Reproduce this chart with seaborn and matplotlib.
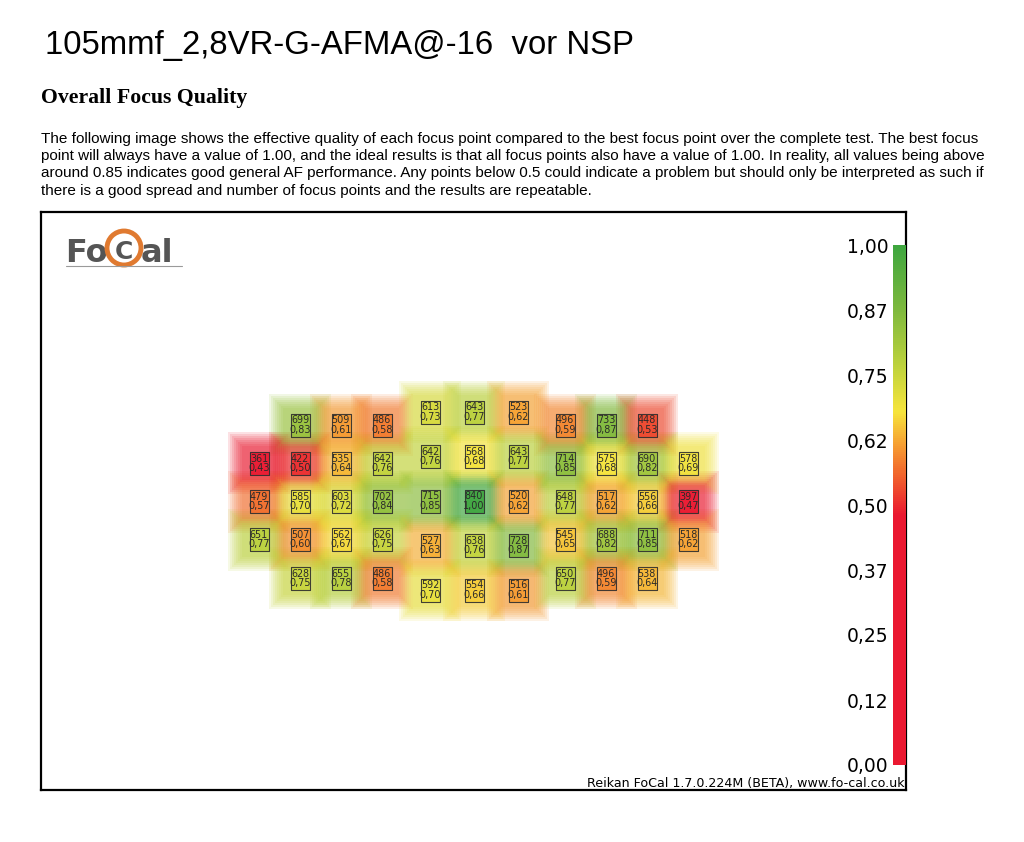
import matplotlib
matplotlib.use("Agg")
import matplotlib.pyplot as plt
import seaborn as sns
import pandas as pd
from matplotlib.colors import LinearSegmentedColormap, Normalize
from matplotlib.cm import ScalarMappable
from matplotlib.markers import MarkerStyle
from matplotlib.path import Path
from matplotlib.patches import Circle

# Data: focus point counts and relative quality, per group (row by row)
left_counts = [[None, 699, 509, 486],
               [361, 422, 535, 642],
               [479, 585, 603, 702],
               [651, 507, 562, 626],
               [None, 628, 655, 486]]
left_quality = [[None, 0.83, 0.61, 0.58],
                [0.43, 0.50, 0.64, 0.76],
                [0.57, 0.70, 0.72, 0.84],
                [0.77, 0.60, 0.67, 0.75],
                [None, 0.75, 0.78, 0.58]]
center_counts = [[613, 643, 523],
                 [642, 568, 643],
                 [715, 840, 520],
                 [527, 638, 728],
                 [592, 554, 516]]
center_quality = [[0.73, 0.77, 0.62],
                  [0.76, 0.68, 0.77],
                  [0.85, 1.00, 0.62],
                  [0.63, 0.76, 0.87],
                  [0.70, 0.66, 0.61]]
right_counts = [[496, 733, 448, None],
                [714, 575, 690, 578],
                [648, 517, 556, 397],
                [545, 688, 711, 518],
                [650, 496, 538, None]]
right_quality = [[0.59, 0.87, 0.53, None],
                 [0.85, 0.68, 0.82, 0.69],
                 [0.77, 0.62, 0.66, 0.47],
                 [0.65, 0.82, 0.85, 0.62],
                 [0.77, 0.59, 0.64, None]]

cbar_ticks = [0, 0.125, 0.25, 0.375, 0.5, 0.625, 0.75, 0.875, 1.0]
cbar_labels = ["0,00", "0,12", "0,25", "0,37", "0,50", "0,62", "0,75", "0,87", "1,00"]

title = "105mmf_2,8VR-G-AFMA@-16  vor NSP"
heading = "Overall Focus Quality"
paragraph = [
    "The following image shows the effective quality of each focus point compared to the best focus point over the complete test. The best focus",
    "point will always have a value of 1.00, and the ideal results is that all focus points also have a value of 1.00. In reality, all values being above",
    "around 0.85 indicates good general AF performance. Any points below 0.5 could indicate a problem but should only be interpreted as such if",
    "there is a good spread and number of focus points and the results are repeatable.",
]
footer = "Reikan FoCal 1.7.0.224M (BETA), www.fo-cal.co.uk"

# Layout of the three AF point groups (in pixel units of the chart box)
groups = [
    (left_counts, left_quality, 259, 41.0, 425, 38.3),
    (center_counts, center_quality, 430, 44.0, 412, 44.5),
    (right_counts, right_quality, 565, 41.0, 425, 38.3),
]

rows = []
for counts, quality, x0, dx, y0, dy in groups:
    for r, (crow, qrow) in enumerate(zip(counts, quality)):
        for c, (n, q) in enumerate(zip(crow, qrow)):
            if n is None:
                continue
            rows.append({"px": x0 + c * dx, "py": y0 + r * dy, "count": int(n), "quality": q})
df = pd.DataFrame(rows)

cmap = LinearSegmentedColormap.from_list("focal", [
    (0.00, "#ea1830"), (0.48, "#ea1830"), (0.56, "#f1652c"), (0.62, "#f6a232"),
    (0.68, "#f6e43c"), (0.77, "#bdd23c"), (0.88, "#7cb83d"), (1.00, "#3ea63f")])
norm = Normalize(0, 1)

sns.set_style("white")
plt.rcParams["font.family"] = ["DejaVu Sans"]
plt.rcParams["text.color"] = "black"

W, H = 1024, 842
fig = plt.figure(figsize=(W / 100, H / 100), dpi=100)

def fx(px):
    return px / W

def fy(py):
    return 1 - py / H

# Header texts
fig.text(fx(45), fy(54), title, fontsize=23.7, va="baseline",
         family=["Liberation Sans Narrow", "Liberation Sans"])
fig.text(fx(41), fy(103), heading, fontsize=15.7, fontweight="bold", va="baseline",
         family=["Liberation Serif"])
for i, line in enumerate(paragraph):
    fig.text(fx(41), fy(143 + i * 17.2), line, fontsize=10.95, va="baseline",
             family=["Liberation Sans"])

# Chart box
ax = fig.add_axes([fx(41), fy(790), (906 - 41) / W, (790 - 212) / H])
ax.set_xlim(41, 906)
ax.set_ylim(790, 212)
ax.set_xticks([])
ax.set_yticks([])
for s in ax.spines.values():
    s.set_color("black")
    s.set_linewidth(1.6)

# Soft glow under each focus point
for size_px in range(62, 30, -4):
    sns.scatterplot(data=df, x="px", y="py", hue="quality", palette=cmap, hue_norm=(0, 1),
                    marker="s", s=(size_px * 0.72) ** 2, alpha=0.13, linewidth=0,
                    legend=False, ax=ax, zorder=1)

# Focus point boxes
box = MarkerStyle(Path([(-9.5, -11.5), (9.5, -11.5), (9.5, 11.5), (-9.5, 11.5), (-9.5, -11.5)], closed=True))
sns.scatterplot(data=df, x="px", y="py", hue="quality", palette=cmap, hue_norm=(0, 1),
                marker=box, s=(23 * 0.72) ** 2, edgecolor="#2e2e2e", linewidth=0.8,
                alpha=0.9, legend=False, ax=ax, zorder=3)
for p in df.itertuples():
    label = f"{p.count}\n{p.quality:.2f}".replace(".", ",")
    ax.text(p.px, p.py, label, ha="center", va="center", fontsize=6.9,
            linespacing=0.88, color="#2a2a2a", zorder=4)
ax.set_xlabel("")
ax.set_ylabel("")

# FoCal logo
ax.text(108, 262, "Fo", fontsize=23, fontweight="bold", color="#555555",
        ha="right", va="baseline", zorder=5)
ax.add_patch(Circle((124, 248), 17, fill=False, edgecolor="#e07a30", linewidth=3.5, zorder=5))
ax.text(124, 259, "C", fontsize=18, fontweight="bold", color="#555555",
        ha="center", va="baseline", zorder=6)
ax.text(141, 262, "al", fontsize=23, fontweight="bold", color="#555555",
        ha="left", va="baseline", zorder=5)
ax.plot([66, 182], [266, 266], color="#9a9a9a", linewidth=0.8, zorder=5)

# Footer
fig.text(fx(905), fy(787), footer, fontsize=9.1, ha="right", va="baseline")

# Colour scale
cax = fig.add_axes([fx(893), fy(765), 13 / W, (765 - 245) / H])
cb = fig.colorbar(ScalarMappable(norm=norm, cmap=cmap), cax=cax)
cb.outline.set_visible(False)
cax.yaxis.set_ticks_position("left")
cb.set_ticks(cbar_ticks)
cb.set_ticklabels(cbar_labels)
cax.tick_params(length=0, pad=3, labelsize=13.5, labelcolor="black")

fig.savefig("out.png", dpi=100, facecolor="white")
